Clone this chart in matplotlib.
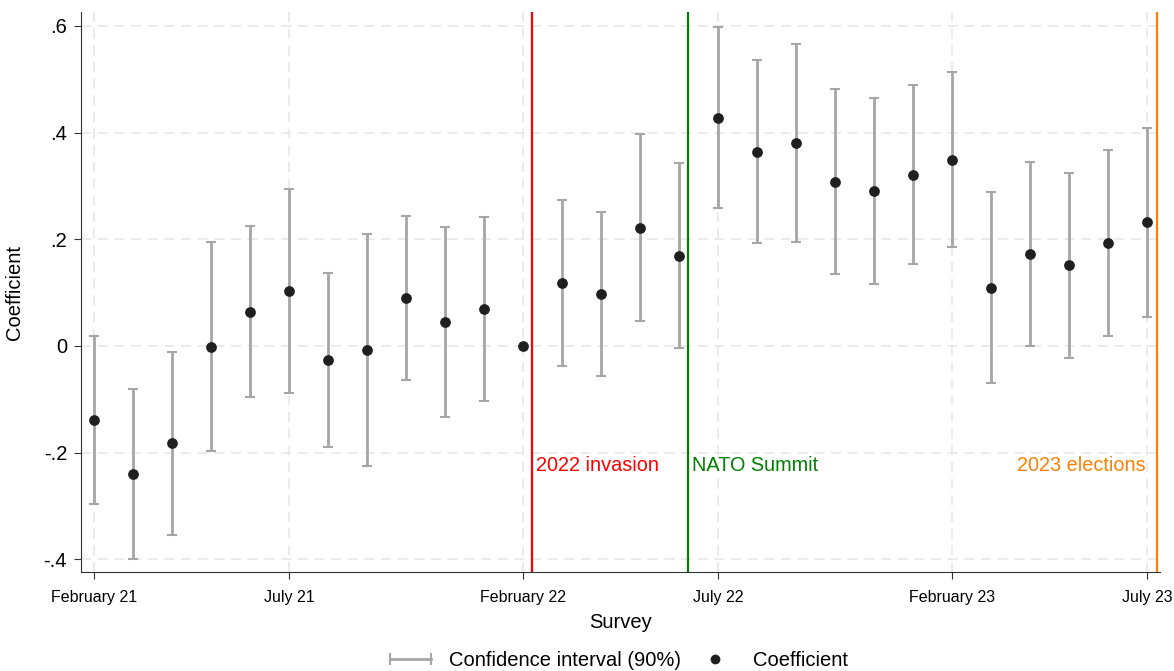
import matplotlib
matplotlib.use("Agg")
import matplotlib.pyplot as plt
from matplotlib.lines import Line2D
from matplotlib.legend_handler import HandlerLine2D

plt.rcParams['font.family'] = ['Liberation Sans', 'DejaVu Sans']

# survey index 0..27
survey = list(range(28))
coef = [-0.139, -0.240, -0.182, -0.002, 0.064, 0.103, -0.026, -0.008, 0.090, 0.045,
        0.069, 0.000, 0.118, 0.098, 0.221, 0.169, 0.428, 0.364, 0.381, 0.308,
        0.291, 0.321, 0.349, 0.109, 0.173, 0.152, 0.193, 0.232]
ci_hi = [0.019, -0.080, -0.011, 0.195, 0.225, 0.294, 0.137, 0.210, 0.244, 0.223,
         0.242, None, 0.274, 0.251, 0.398, 0.343, 0.598, 0.536, 0.566, 0.482,
         0.465, 0.489, 0.514, 0.289, 0.345, 0.324, 0.367, 0.409]
ci_lo = [-0.296, -0.399, -0.354, -0.197, -0.096, -0.088, -0.189, -0.225, -0.064, -0.133,
         -0.104, None, -0.038, -0.056, 0.047, -0.004, 0.259, 0.193, 0.195, 0.135,
         0.116, 0.154, 0.186, -0.069, 0.000, -0.022, 0.019, 0.054]

tick_pos = [0, 5, 11, 16, 22, 27]
tick_labels = ["February 21", "July 21", "February 22", "July 22", "February 23", "July 23"]
yticks = [-0.4, -0.2, 0, 0.2, 0.4, 0.6]
ytick_labels = ["-.4", "-.2", "0", ".2", ".4", ".6"]

events = [11.24, 15.24, 27.25]
event_names = ["2022 invasion", "NATO Summit", "2023 elections"]
event_colors = ["#ff0000", "#008000", "#ff7f00"]

fig = plt.figure(figsize=(11.74, 6.71), dpi=100)
ax = fig.add_axes([0.069, 0.1475, 0.919, 0.8345])

# error bars
for x, lo, hi in zip(survey, ci_lo, ci_hi):
    if lo is None:
        continue
    ax.vlines(x, lo, hi, color="#a6a6a6", lw=2, zorder=2)
    ax.hlines([lo, hi], x - 0.13, x + 0.13, color="#a6a6a6", lw=1.5, zorder=2)

ax.scatter(survey, coef, s=45, color="#1f1f1f", zorder=4)

for xe, name, c in zip(events, event_names, event_colors):
    ax.axvline(xe, color=c, lw=1.6, zorder=3)
ax.text(events[0] + 0.1, -0.225, event_names[0], color=event_colors[0], fontsize=14.3, va="center", ha="left")
ax.text(events[1] + 0.1, -0.225, event_names[1], color=event_colors[1], fontsize=14.3, va="center", ha="left")
ax.text(events[2] - 0.28, -0.225, event_names[2], color=event_colors[2], fontsize=14.3, va="center", ha="right")

ax.set_xlim(-0.33, 27.33)
ax.set_ylim(-0.424, 0.626)
ax.set_xticks(tick_pos)
ax.set_xticklabels(tick_labels, fontsize=11.5)
ax.set_yticks(yticks)
ax.set_yticklabels(ytick_labels, fontsize=14.5)
ax.grid(True, color="#e8e8e8", ls=(0, (6, 4)), lw=1.2, zorder=0)
ax.set_axisbelow(True)
ax.spines["top"].set_visible(False)
ax.spines["right"].set_visible(False)
ax.spines["left"].set_color("#333333")
ax.spines["bottom"].set_color("#333333")
ax.tick_params(length=5, color="#333333")
ax.tick_params(axis="x", pad=8)
ax.tick_params(axis="y", pad=5)
ax.set_xlabel("Survey", fontsize=14.5, labelpad=6)
ax.set_ylabel("Coefficient", fontsize=14.5, labelpad=14)

ci_handle = Line2D([0], [0], color="#a6a6a6", lw=2, marker="|", markersize=9, markeredgewidth=1.5)
pt_handle = Line2D([0], [0], color="#1f1f1f", lw=0, marker="o", markersize=6)
fig.legend([ci_handle, pt_handle], ["Confidence interval (90%)", "Coefficient"], loc="lower center",
           bbox_to_anchor=(0.525, -0.025), ncol=2, frameon=False, fontsize=14.5,
           handlelength=2.6, handletextpad=0.6, columnspacing=0.4,
           handler_map={ci_handle: HandlerLine2D(numpoints=2)})

fig.savefig("out.png", dpi=100)
